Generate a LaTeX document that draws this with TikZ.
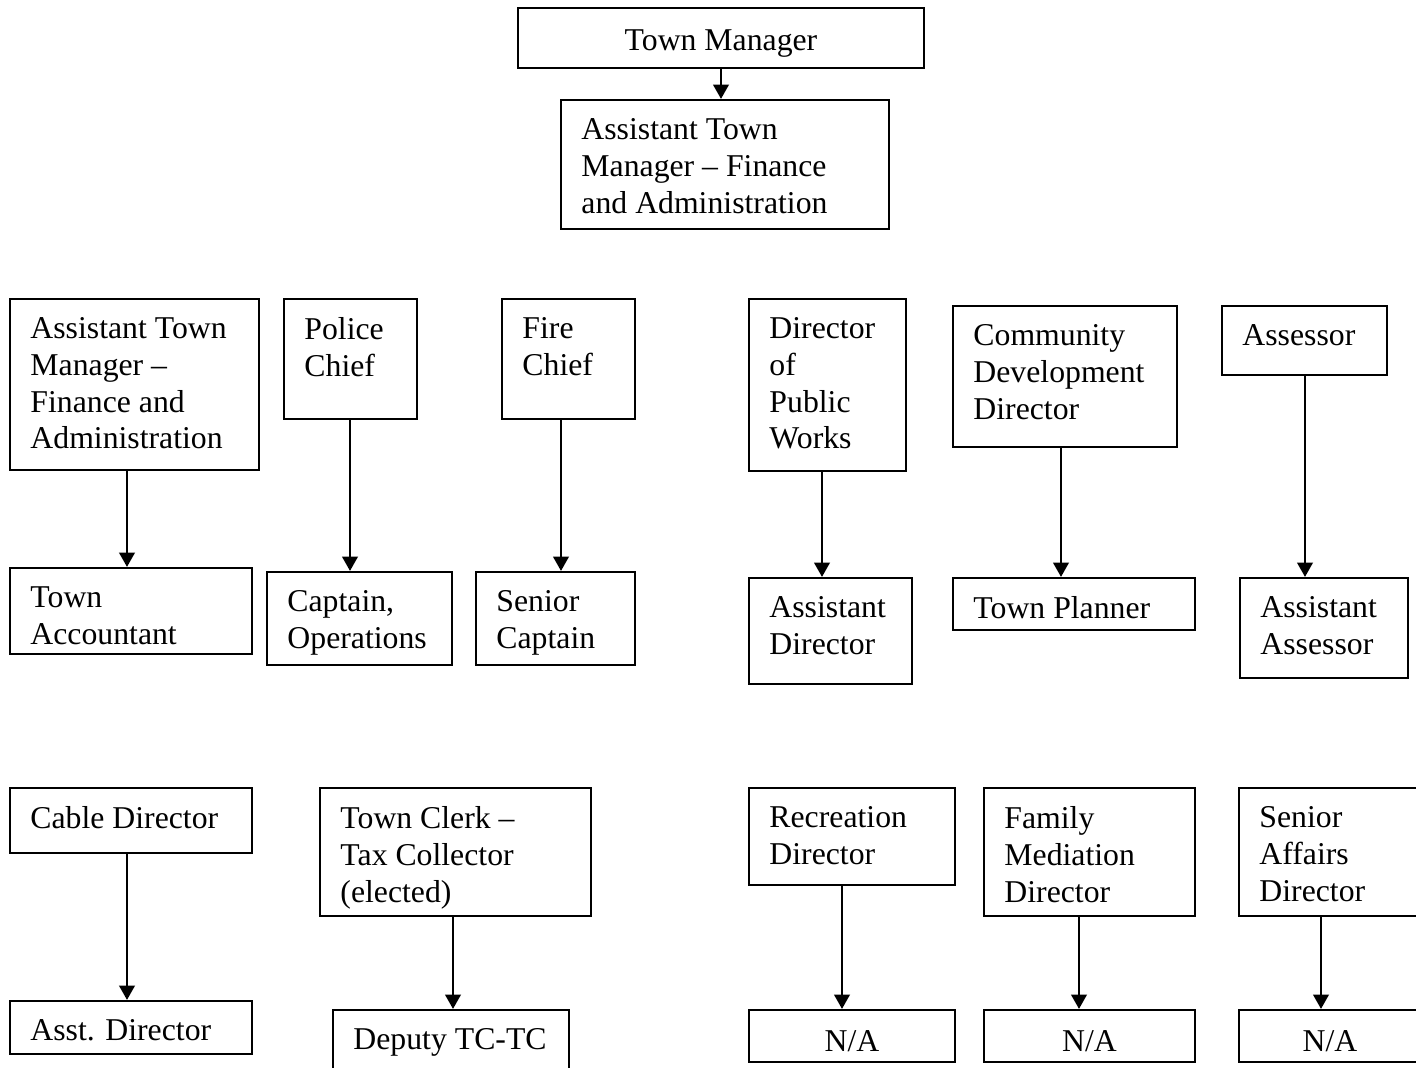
\documentclass[tikz,border=0pt]{standalone}
\usepackage{fontspec}
\setmainfont{Liberation Serif}
\usetikzlibrary{fit,arrows.meta}

% box with text set at its top left
\newcommand{\post}[6]{%
  \node[box, fit={(#2,#3) (#4,#5)}] (#1) {};
  \node[txt] (#1-txt) at ([shift={(21,19)}]#1.north west) {#6};
}
% box with text in its middle
\newcommand{\postc}[6]{%
  \node[box, fit={(#2,#3) (#4,#5)}] (#1) {};
  \node[txt, anchor=center] (#1-txt) at ([yshift=-2]#1.center) {#6};
}

\begin{document}
\begin{tikzpicture}[x=0.378pt, y=-0.378pt,
    box/.style={draw, line width=0.8pt, inner sep=0pt},
    txt/.style={anchor=north west, align=left, inner sep=0pt, font=\fontsize{12}{13.9}\selectfont},
    arr/.style={-{Triangle[length=5.4pt, width=5.8pt]}, line width=1pt}]
            \useasboundingbox (0,0) rectangle (1416,1067);
            \clip (0,0) rectangle (1416,1067);

            \postc{tm}{518}{8}{924}{68}{Town Manager}
            \post{atm}{561}{100}{889}{229}{Assistant Town\\Manager – Finance\\and Administration}

            \post{atmfa}{10}{299}{259}{470}{Assistant Town\\Manager –\\Finance and\\Administration}
            \post{police}{284}{299}{417}{419}{Police\\Chief}
            \post{fire}{502}{299}{635}{419}{Fire\\Chief}
            \post{dpw}{749}{299}{906}{471}{Director\\of\\Public\\Works}
            \post{cdd}{953}{306}{1177}{447}{Community\\Development\\Director}
            \post{assessor}{1222}{306}{1387}{375}{Assessor}

            \post{acct}{10}{568}{252}{654}{Town\\Accountant}
            \post{capops}{267}{572}{452}{665}{Captain,\\Operations}
            \post{srcapt}{476}{572}{635}{665}{Senior\\Captain}
            \post{asstdir}{749}{578}{912}{684}{Assistant\\Director}
            \post{planner}{953}{578}{1195}{630}{Town Planner}
            \post{asstass}{1240}{578}{1408}{678}{Assistant\\Assessor}

            \post{cable}{10}{788}{252}{853}{Cable Director}
            \post{clerk}{320}{788}{591}{916}{Town Clerk –\\Tax Collector\\(elected)}
            \post{rec}{749}{788}{955}{885}{Recreation\\Director}
            \post{family}{984}{788}{1195}{916}{Family\\Mediation\\Director}
            \post{senior}{1239}{788}{1421}{916}{Senior\\Affairs\\Director}

            \post{cabledep}{10}{1001}{252}{1054}{Asst. Director}
            \post{deputy}{333}{1010}{569}{1085}{Deputy TC-TC}
            \postc{recna}{749}{1010}{955}{1062}{N/A}
            \postc{famna}{984}{1010}{1195}{1062}{N/A}
            \postc{senna}{1239}{1010}{1421}{1062}{N/A}

            \foreach \a/\b/\x in {tm/atm/721, atmfa/acct/127, police/capops/350, fire/srcapt/561,
                dpw/asstdir/822, cdd/planner/1061, assessor/asstass/1305, cable/cabledep/127,
                clerk/deputy/453, rec/recna/842, family/famna/1079, senior/senna/1321}
                \draw[arr] (\a.south -| \x,0) -- (\b.north -| \x,0);

        \end{tikzpicture}
\end{document}
